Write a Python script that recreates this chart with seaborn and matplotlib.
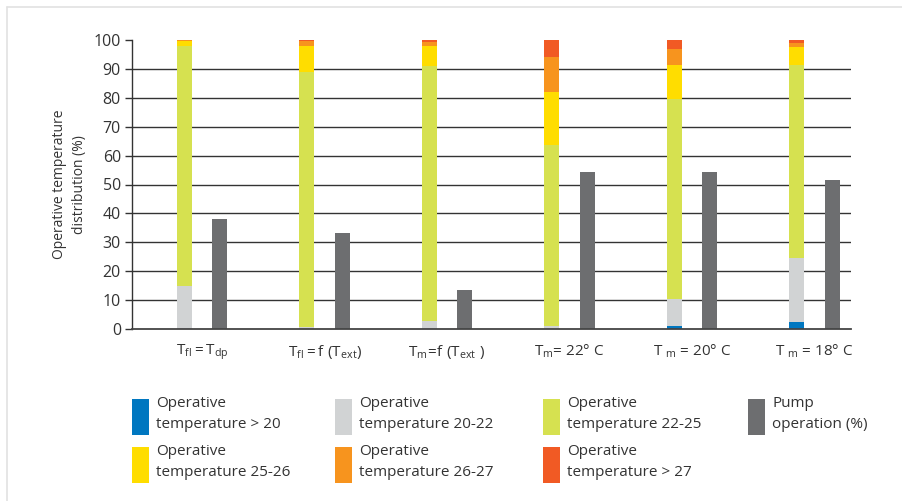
import seaborn as sns
import matplotlib.pyplot as plt
import matplotlib.lines as mlines
import matplotlib.patches as mpatches
import pandas as pd
import numpy as np

# scenario labels (x axis)
scenarios = [r'$\mathregular{T_{fl} = T_{dp}}$',
             r'$\mathregular{T_{fl} = f\ (T_{ext})}$',
             r'$\mathregular{T_m\!=\!f\ (T_{ext}\ )}$',
             r'$\mathregular{T_m}$= 22° C',
             r'T $\mathregular{_m}$ = 20° C',
             r'T $\mathregular{_m}$ = 18° C']

# operative temperature distribution (%) per scenario
op_below_20 = [0.0, 0.0, 0.0, 0.0, 1.0, 2.4]
op_20_22 = [15.0, 0.8, 2.7, 1.0, 9.5, 22.0]
op_22_25 = [83.0, 88.2, 88.3, 62.5, 69.0, 66.9]
op_25_26 = [1.6, 9.0, 7.0, 18.5, 11.8, 6.3]
op_26_27 = [0.3, 1.6, 1.3, 12.0, 5.7, 1.4]
op_above_27 = [0.1, 0.4, 0.7, 6.0, 3.0, 1.0]
pump = [38.2, 33.3, 13.5, 54.2, 54.2, 51.7]

layer_names = ['Operative\ntemperature > 20', 'Operative\ntemperature 20-22',
               'Operative\ntemperature 22-25', 'Operative\ntemperature 25-26',
               'Operative\ntemperature 26-27', 'Operative\ntemperature > 27']
layer_values = [op_below_20, op_20_22, op_22_25, op_25_26, op_26_27, op_above_27]
layer_colors = ['#0077c0', '#d1d3d4', '#d6e150', '#ffdd00', '#f7941e', '#f15a24']
pump_name = 'Pump\noperation (%)'
pump_color = '#6d6e70'

sns.set_theme(style='white')
plt.rcParams['font.family'] = ['Open Sans', 'DejaVu Sans']
plt.rcParams['mathtext.fontset'] = 'custom'
plt.rcParams['mathtext.rm'] = 'Open Sans'
plt.rcParams['mathtext.it'] = 'Open Sans'
text_color = '#333333'

W, H = 902, 501
fig = plt.figure(figsize=(W / 100, H / 100), dpi=100)
ax = fig.add_axes([132 / W, 1 - 329 / H, (851 - 132) / W, (329 - 40) / H])

# stacked bars: draw cumulative sums, tallest first
cum = np.cumsum(np.array(layer_values), axis=0)
bar_kw = dict(hue_order=['stack', 'pump'], width=0.58, gap=0.578, dodge=True,
              saturation=1, linewidth=0, errorbar=None, legend=False, ax=ax)
for k in range(len(layer_values) - 1, -1, -1):
    d = pd.DataFrame({'scenario': scenarios, 'value': cum[k], 'kind': 'stack'})
    sns.barplot(data=d, x='scenario', y='value', hue='kind', order=scenarios,
                palette={'stack': layer_colors[k], 'pump': pump_color}, **bar_kw)
d = pd.DataFrame({'scenario': scenarios, 'value': pump, 'kind': 'pump'})
sns.barplot(data=d, x='scenario', y='value', hue='kind', order=scenarios,
            palette={'stack': layer_colors[0], 'pump': pump_color}, **bar_kw)

ax.set_xlim(-0.5735, 5.30)
ax.set_ylim(0, 100)
ax.set_yticks(range(0, 101, 10))
ax.set_xlabel('')
ax.set_ylabel('Operative temperature\ndistribution (%)', fontsize=10,
              color=text_color, labelpad=5, linespacing=1.45)
ax.tick_params(axis='y', left=True, length=5, width=1, color='#333333',
               labelsize=11.5, labelcolor=text_color, pad=3)
ax.tick_params(axis='x', bottom=False, labelsize=11, labelcolor=text_color, pad=4)

ax.set_axisbelow(True)
ax.grid(axis='y', color='#333333', linewidth=1.0)
ax.grid(axis='x', visible=False)
ax.get_ygridlines()[-1].set_visible(False)
ax.get_ygridlines()[0].set_visible(False)
for s in ['top', 'right']:
    ax.spines[s].set_visible(False)
ax.spines['left'].set_color('#333333')
ax.spines['left'].set_linewidth(1.0)
ax.spines['bottom'].set_color('#444444')
ax.spines['bottom'].set_linewidth(1.3)

# legend: laid out by hand, four columns x two rows
items = list(zip(layer_colors, layer_names)) + [(pump_color, pump_name)]
slots = [(0, 0), (1, 0), (2, 0), (0, 1), (1, 1), (2, 1), (3, 0)]
col_x = [132, 335, 543, 748]
row_y = [399, 447]
for (c, n), (ci, ri) in zip(items, slots):
    x0, y0 = col_x[ci], row_y[ri]
    fig.add_artist(mpatches.Rectangle((x0 / W, 1 - (y0 + 36) / H), 17 / W, 36 / H,
                                      transform=fig.transFigure, color=c, lw=0))
    fig.text((x0 + 24) / W, 1 - (y0 - 3) / H, n, ha='left', va='top',
             fontsize=11, color=text_color, linespacing=1.5)

# faint frame on top and left edges
fig.add_artist(mlines.Line2D([7 / W, 1], [1 - 7 / H, 1 - 7 / H],
                             color='#e2e2e2', linewidth=1.2))
fig.add_artist(mlines.Line2D([7 / W, 7 / W], [0, 1 - 7 / H],
                             color='#e2e2e2', linewidth=1.2))

fig.savefig('out.png', dpi=100)
